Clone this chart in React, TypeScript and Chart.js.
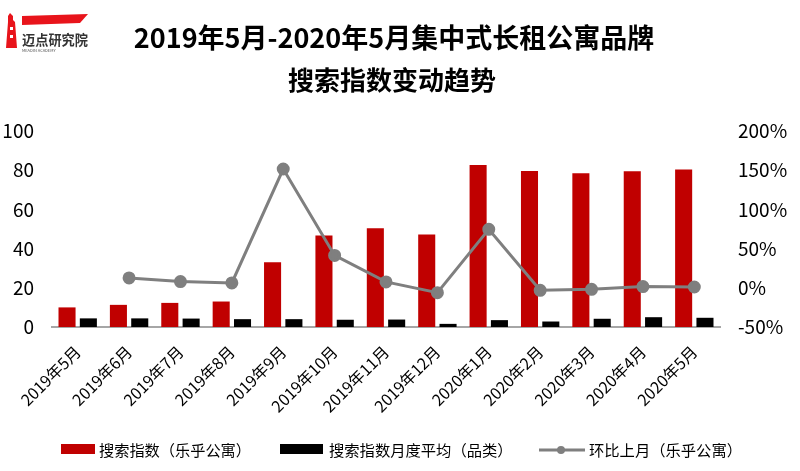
import React, { useEffect, useRef } from "react";
import { Chart, registerables } from "chart.js";

Chart.register(...registerables);

const months = [
  "2019年5月", "2019年6月", "2019年7月", "2019年8月", "2019年9月", "2019年10月",
  "2019年11月", "2019年12月", "2020年1月", "2020年2月", "2020年3月", "2020年4月", "2020年5月",
];
const searchIndex = [10, 11.3, 12.3, 13, 33, 46.7, 50.4, 47.2, 82.6, 79.6, 78.5, 79.5, 80.4];
const categoryAvg = [4.4, 4.4, 4.3, 4.0, 4.0, 3.7, 3.8, 1.6, 3.5, 2.8, 4.2, 5.0, 4.7];
const momChange = [null, 12.6, 7.9, 6.2, 151.5, 41.3, 7.5, -6.2, 74.6, -3.2, -1.9, 1.5, 1.0];

const seriesNames = ["搜索指数（乐乎公寓）", "搜索指数月度平均（品类）", "环比上月（乐乎公寓）"];
const titleLines = ["2019年5月-2020年5月集中式长租公寓品牌", "搜索指数变动趋势"];
const logoText = "迈点研究院";
const logoSub = "MEADIN ACADEMY";

const RED = "#c00000";
const BLACK = "#000000";
const GRAY = "#7f7f7f";
const FONT = "'Noto Sans CJK SC', 'Noto Sans', sans-serif";

const decorPlugin = {
  id: "decor",
  afterDraw(chart: any) {
    const ctx = chart.ctx as CanvasRenderingContext2D;
    ctx.save();
    // logo lighthouse
    ctx.fillStyle = "#e8141b";
    ctx.beginPath();
    ctx.moveTo(10, 13);
    ctx.lineTo(13, 16);
    ctx.lineTo(13, 20);
    ctx.lineTo(15, 22);
    ctx.lineTo(17, 48);
    ctx.lineTo(6, 48);
    ctx.lineTo(8, 22);
    ctx.lineTo(8, 16);
    ctx.closePath();
    ctx.fill();
    ctx.fillStyle = "#ffffff";
    ctx.fillRect(10, 27, 3, 3);
    ctx.fillRect(10, 35, 3, 3);
    // beam
    ctx.fillStyle = "#e8141b";
    ctx.beginPath();
    ctx.moveTo(22, 16);
    ctx.lineTo(88, 14);
    ctx.lineTo(80, 23);
    ctx.lineTo(22, 25);
    ctx.closePath();
    ctx.fill();
    ctx.fillStyle = "#333333";
    ctx.font = `bold 14px ${FONT}`;
    ctx.textAlign = "left";
    ctx.textBaseline = "middle";
    ctx.fillText(logoText, 22, 40, 66);
    ctx.font = `4px ${FONT}`;
    ctx.fillStyle = "#555555";
    ctx.fillText(logoSub, 22, 50, 66);

    // title
    ctx.fillStyle = "#000000";
    ctx.textAlign = "center";
    ctx.font = `bold 27px ${FONT}`;
    ctx.fillText(titleLines[0], 394, 38, 534);
    ctx.font = `bold 26px ${FONT}`;
    ctx.fillText(titleLines[1], 392, 80, 212);

    // legend
    const ly = 449;
    ctx.fillStyle = RED;
    ctx.fillRect(61, ly - 5, 34, 10);
    ctx.fillStyle = BLACK;
    ctx.fillRect(280, ly - 5, 43, 10);
    ctx.strokeStyle = GRAY;
    ctx.lineWidth = 3;
    ctx.beginPath();
    ctx.moveTo(539, ly + 1);
    ctx.lineTo(585, ly + 1);
    ctx.stroke();
    ctx.fillStyle = GRAY;
    ctx.beginPath();
    ctx.arc(561, ly + 1, 4, 0, Math.PI * 2);
    ctx.fill();
    ctx.fillStyle = "#000000";
    ctx.textAlign = "left";
    ctx.font = `15.3px ${FONT}`;
    ctx.fillText(seriesNames[0], 99, ly + 1, 152);
    ctx.fillText(seriesNames[1], 329, ly + 1, 185);
    ctx.fillText(seriesNames[2], 589, ly + 1, 156);
    ctx.restore();
  },
};

export default function App() {
  const ref = useRef<HTMLCanvasElement | null>(null);
  useEffect(() => {
    document.body.style.margin = "0";
    const canvas = ref.current;
    if (!canvas) return;
    const chart = new Chart(canvas, {
      type: "bar",
      data: {
        labels: months,
        datasets: [
          {
            type: "line",
            label: seriesNames[2],
            data: momChange,
            yAxisID: "y1",
            borderColor: GRAY,
            backgroundColor: GRAY,
            borderWidth: 3,
            pointRadius: 5,
            pointBackgroundColor: GRAY,
            pointBorderColor: GRAY,
            tension: 0,
            order: 0,
          } as any,
          {
            type: "bar",
            label: seriesNames[0],
            data: searchIndex,
            yAxisID: "y",
            backgroundColor: RED,
            categoryPercentage: 0.83,
            barPercentage: 0.8,
            order: 1,
          },
          {
            type: "bar",
            label: seriesNames[1],
            data: categoryAvg,
            yAxisID: "y",
            backgroundColor: BLACK,
            categoryPercentage: 0.83,
            barPercentage: 0.8,
            order: 1,
          },
        ],
      },
      options: {
        responsive: false,
        animation: false,
        devicePixelRatio: 1,
        layout: { padding: { top: 131, left: 0, right: 0, bottom: 0 } },
        plugins: {
          legend: { display: false },
          title: { display: false },
          tooltip: { enabled: false },
        },
        scales: {
          x: {
            grid: { display: false, drawTicks: false },
            border: { display: true, color: "#a6a6a6", width: 2 },
            ticks: {
              color: "#000",
              font: { family: FONT, size: 16 },
              minRotation: 45,
              maxRotation: 45,
              autoSkip: false,
              padding: 15,
            },
            afterFit: (s: any) => {
              s.height = 144;
            },
          },
          y: {
            position: "left",
            min: 0,
            max: 100,
            grid: { display: false, drawTicks: false },
            border: { display: false },
            ticks: {
              stepSize: 20,
              color: "#000",
              font: { family: FONT, size: 19 },
              padding: 18,
            },
            afterFit: (s: any) => {
              s.width = 52;
            },
          },
          y1: {
            position: "right",
            min: -50,
            max: 200,
            grid: { display: false, drawTicks: false },
            border: { display: false },
            ticks: {
              stepSize: 50,
              color: "#000",
              font: { family: FONT, size: 19 },
              padding: 18,
              callback: (v: any) => `${v}%`,
            },
            afterFit: (s: any) => {
              s.width = 80;
            },
          },
        },
      },
      plugins: [decorPlugin],
    });
    return () => chart.destroy();
  }, []);
  return (
    <div style={{ position: "fixed", left: 0, top: 0, width: 800, height: 471, background: "#fff" }}>
      <canvas ref={ref} width={800} height={471} />
    </div>
  );
}
